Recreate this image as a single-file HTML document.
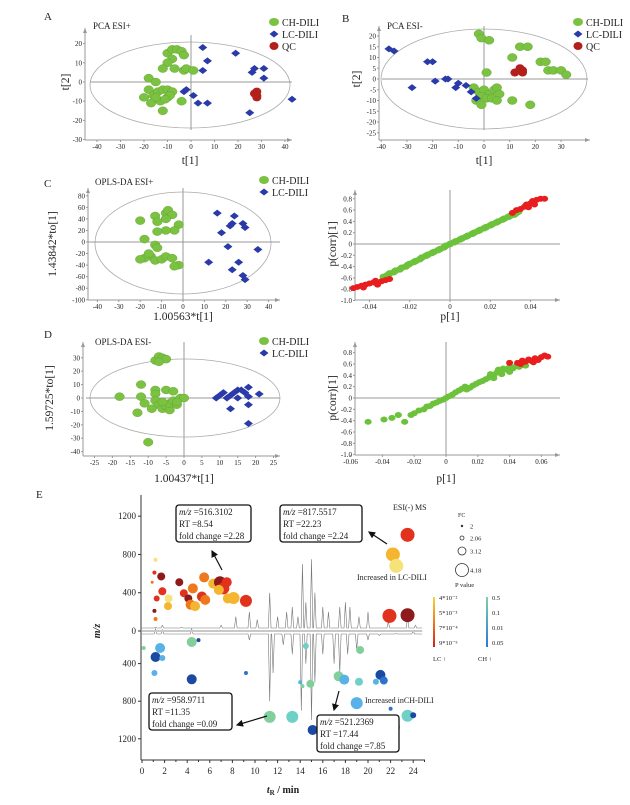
<!DOCTYPE html>
<html><head><meta charset="utf-8">
<style>
html,body{margin:0;padding:0;background:#fff;}
svg{display:block;font-family:"Liberation Serif",serif;}
</style></head>
<body>
<svg id="fig" width="630" height="805" viewBox="0 0 630 805" xmlns="http://www.w3.org/2000/svg"></svg>
<script>
// ---------- DATA ----------
const aGreen=[[-10,15],[-8,17],[-6,17],[-4,16],[-3,14],[-8,12],[-10,10],[-12,7],[-7,7],[-3,6],[-2,7],[1,6],[-18,2],[-15,0],[-18,-4],[-20,-8],[-16,-7],[-14,-5],[-12,-4],[-10,-4],[-8,-5],[-17,-11],[-13,-10],[-10,-8],[-9,-7],[-4,-10],[-12,-15],[-15,-8],[-11,-9]];
const aBlue=[[5,18],[7,11],[5,6],[19,15],[26,5],[27,7],[31,7],[31,2],[-3,-5],[-2,-4],[1,-7],[3,-11],[7,-11],[25,-16],[43,-9]];
const aQC=[[28,-5],[28,-7],[28,-8],[27,-6]];
const bGreen=[[-2,21],[-1,19],[2,18],[14,15],[17,15],[11,10],[22,8],[24,8],[25,4],[27,4],[30,4],[32,2],[1,3],[-4,-4],[-2,-6],[0,-5],[2,-7],[4,-5],[5,-4],[6,-7],[-1,-8],[1,-9],[3,-9],[5,-10],[-3,-10],[-1,-12],[11,-10],[18,-12]];
const bBlue=[[-37,14],[-35,13],[-22,8],[-20,8],[-19,-1],[-15,0],[-14,0],[-11,-4],[-10,-2],[-7,-3],[-5,-6],[-3,-9],[-28,-4]];
const bQC=[[12,3],[14,5],[15,4],[15,3]];
const cGreen=[[-20,37],[-13,45],[-12,35],[-8,50],[-7,55],[-5,47],[-8,40],[-2,30],[-4,20],[-8,20],[-12,18],[-18,5],[-13,-5],[-12,-10],[-15,-25],[-18,-28],[-13,-32],[-10,-30],[-8,-25],[-5,-28],[-2,-40],[-4,-42],[-16,-20],[-20,-30]];
const cBlue=[[16,50],[24,45],[23,32],[22,28],[28,32],[29,25],[18,16],[21,-8],[35,-13],[12,-35],[26,-35],[23,-48],[28,-58],[29,-65]];
const dGreen=[[-8,28],[-7,31],[-6,30],[-5,29],[-7,27],[-12,10],[-18,1],[-12,1],[-11,-4],[-8,6],[-8,3],[-5,6],[-3,5],[-8,-2],[-7,-5],[-6,-8],[-5,-6],[-4,-9],[-4,-4],[-3,-2],[-2,-5],[-1,0],[0,0],[-13,-11],[-9,-8],[-10,-33],[-6,-3],[-2,-3]];
const dBlue=[[9,0],[10,2],[11,4],[12,0],[13,2],[14,4],[15,6],[16,6],[17,4],[18,8],[21,3],[15,0],[18,1],[18,-5],[13,-8],[18,-19]];
const csGreen=[[-0.033,-0.58],[-0.031,-0.55],[-0.03,-0.52],[-0.028,-0.5],[-0.027,-0.47],[-0.025,-0.45],[-0.024,-0.42],[-0.022,-0.4],[-0.021,-0.37],[-0.02,-0.35],[-0.018,-0.32],[-0.017,-0.3],[-0.015,-0.27],[-0.014,-0.24],[-0.012,-0.21],[-0.011,-0.19],[-0.009,-0.16],[-0.008,-0.14],[-0.006,-0.11],[-0.005,-0.09],[-0.003,-0.06],[-0.002,-0.03],[0,0],[0.002,0.03],[0.003,0.05],[0.005,0.08],[0.006,0.1],[0.008,0.13],[0.009,0.15],[0.011,0.18],[0.012,0.2],[0.014,0.23],[0.015,0.25],[0.017,0.28],[0.018,0.3],[0.02,0.33],[0.021,0.35],[0.023,0.38],[0.024,0.4],[0.026,0.43],[0.027,0.45],[0.029,0.48],[0.03,0.5],[0.032,0.52],[0.033,0.55],[0.034,0.57]];
const csRed=[[-0.048,-0.78],[-0.046,-0.76],[-0.044,-0.74],[-0.042,-0.72],[-0.04,-0.7],[-0.038,-0.68],[-0.036,-0.72],[-0.034,-0.66],[-0.032,-0.64],[-0.03,-0.62],[-0.037,-0.65],[-0.043,-0.77],[0.031,0.55],[0.033,0.6],[0.035,0.62],[0.037,0.66],[0.038,0.7],[0.04,0.72],[0.041,0.76],[0.043,0.78],[0.045,0.8],[0.047,0.8],[0.039,0.65],[0.042,0.7]];
const dsGreen=[[-0.049,-0.42],[-0.039,-0.38],[-0.034,-0.35],[-0.03,-0.3],[-0.026,-0.42],[-0.022,-0.3],[-0.02,-0.27],[-0.017,-0.22],[-0.014,-0.2],[-0.012,-0.15],[-0.01,-0.14],[-0.008,-0.1],[-0.006,-0.08],[-0.004,-0.05],[-0.002,-0.03],[0,0],[0.002,0.03],[0.004,0.06],[0.006,0.1],[0.008,0.13],[0.01,0.16],[0.012,0.2],[0.013,0.15],[0.015,0.18],[0.017,0.22],[0.019,0.25],[0.021,0.28],[0.023,0.3],[0.025,0.33],[0.027,0.36],[0.028,0.42],[0.03,0.4],[0.032,0.45],[0.033,0.5],[0.035,0.47],[0.036,0.52],[0.038,0.5],[0.04,0.55],[0.042,0.52],[0.044,0.56],[0.046,0.55],[0.048,0.58],[0.05,0.57],[0.03,0.35],[0.035,0.42],[0.04,0.46]];
const dsRed=[[0.04,0.62],[0.045,0.62],[0.048,0.66],[0.05,0.64],[0.052,0.68],[0.054,0.65],[0.056,0.7],[0.058,0.67],[0.06,0.72],[0.062,0.75],[0.064,0.73],[0.055,0.63],[0.047,0.6]];
// E bubbles: [time, m/z, radius-class, colour index]
const eUp=[[23.5,1005,7,1],[22.2,800,7,3],[22.5,680,7,4],[21.9,158,7,1],[23.5,165,7,0],[1.2,745,2,4],[1.1,610,2,1],[0.9,510,1.5,2],[1.7,570,4,0],[1.8,415,4,1],[1.3,340,3,1],[2.35,340,4,4],[2.3,260,4,3],[1.1,210,2,0],[1.2,125,2,2],[3.3,510,4,0],[3.7,395,4,1],[4.5,445,5,2],[4.1,340,4,0],[4.3,275,5,2],[4.7,260,5,3],[5.3,360,5,1],[5.6,325,5,2],[5.5,560,5,2],[6.3,495,5,3],[6.9,510,6,0],[7.2,445,6,1],[7.5,510,5,1],[6.8,430,5,3],[7.6,340,5,3],[8.1,345,6,3],[9.2,315,6,1]];
const eDown=[[0.15,234,2,0],[1.2,330,5,4],[1.6,234,5,2],[1.8,340,3,2],[1.1,500,3,2],[4.4,170,5,0],[5.0,150,2,4],[4.4,567,5,4],[9.2,500,2,3],[11.3,967,6,0],[13.3,967,6,1],[14.5,213,3,1],[14.0,598,2,2],[14.2,640,2,0],[14.9,615,4,0],[15.1,1106,5,4],[17.4,535,5,0],[17.9,570,5,2],[19.0,820,6,2],[19.2,593,4,1],[19.3,255,4,0],[20.7,593,3,2],[21.1,520,5,4],[21.4,580,4,3],[22.0,880,2,3],[23.5,955,6,1],[24.0,950,3,4],[22.4,1075,5,0]];
const peaksUp=[[1.2,40],[1.8,60],[3.5,40],[7,60],[8.3,150],[9.5,200],[10.2,120],[11.3,400],[12,150],[12.8,200],[13.3,250],[13.8,150],[14.2,700],[14.5,300],[15,750],[15.3,400],[16,250],[16.5,200],[17.5,250],[18,300],[18.4,250],[19.2,150],[20,200],[21.8,100],[23.5,150],[24.2,60]];
const peaksDown=[[1.2,30],[1.8,40],[4.4,30],[9.5,150],[11.3,800],[11.6,500],[12.5,200],[13.3,300],[14.1,900],[14.5,400],[15,1000],[15.3,600],[16,300],[17,400],[17.5,500],[18.2,300],[19,250],[20,150],[21,100],[22.5,80],[24,50]];
const eXTicks=[0,2,4,6,8,10,12,14,16,18,20,22,24];
const eYTicksUp=[0,400,800,1200];
const eYTicksDown=[400,800,1200];
const upColors=['#8e1b1b','#e0321c','#f0781c','#f5b52e','#f6e27a'];
const downColors=['#82cf9c','#6fd0c8','#58b2e8','#2e72cc','#1c4aa2'];

// ---------- HELPERS ----------
const NS='http://www.w3.org/2000/svg';
const svg=document.getElementById('fig');
function mk(tag,attrs,parent,name){
  const e=document.createElementNS(NS,tag);
  for(const k in attrs)e.setAttribute(k,attrs[k]);
  
  
  (parent||svg).appendChild(e);return e;
}
function txt(x,y,s,size,opts,parent,name){
  const o=Object.assign({x:x,y:y,'font-size':size,fill:'#222'},opts||{});
  const t=mk('text',o,parent,name);t.textContent=s;return t;
}
const GREEN='#7cc242',BLUE='#2a3aa8',RED='#b3201c';
function circ(g,x,y,c,name){mk('ellipse',{cx:x,cy:y,rx:4.8,ry:4,fill:c,stroke:'#5aa02a','stroke-width':0.4},g,name);}
function dia(g,x,y,name){mk('path',{d:`M${x-4.5},${y}L${x},${y-3.5}L${x+4.5},${y}L${x},${y+3.5}Z`,fill:BLUE},g,name);}
function qc(g,x,y,name){mk('ellipse',{cx:x,cy:y,rx:4.5,ry:4,fill:RED},g,name);}

function scorePlot(cfg){
  const g=mk('g',{},svg,cfg.name);
  const X=v=>cfg.x0+cfg.sx*v, Y=v=>cfg.y0-cfg.sy*v;
  mk('line',{x1:cfg.ax,y1:cfg.ayTop,x2:cfg.ax,y2:cfg.ab,stroke:'#999','stroke-width':1},g,'y-axis');
  mk('path',{d:`M${cfg.ax-2},${cfg.ayTop+5}L${cfg.ax},${cfg.ayTop}L${cfg.ax+2},${cfg.ayTop+5}`,fill:'#999'},g,'y-axis-arrow');
  mk('line',{x1:cfg.ax,y1:cfg.ab,x2:cfg.axRight,y2:cfg.ab,stroke:'#999','stroke-width':1},g,'x-axis');
  mk('path',{d:`M${cfg.axRight-5},${cfg.ab-2}L${cfg.axRight},${cfg.ab}L${cfg.axRight-5},${cfg.ab+2}`,fill:'#999'},g,'x-axis-arrow');
  cfg.xt.forEach(v=>{mk('line',{x1:X(v),y1:cfg.ab,x2:X(v),y2:cfg.ab+2,stroke:'#999'},g,'x-tick');
    txt(X(v),cfg.ab+9,cfg.fmtX?cfg.fmtX(v):String(v),7,{'text-anchor':'middle'},g,'x-tick-label');});
  cfg.yt.forEach(v=>{mk('line',{x1:cfg.ax-2,y1:Y(v),x2:cfg.ax,y2:Y(v),stroke:'#999'},g,'y-tick');
    txt(cfg.ax-3,Y(v)+2.5,cfg.fmtY?cfg.fmtY(v):String(v),7,{'text-anchor':'end'},g,'y-tick-label');});
  if(cfg.ell) mk('ellipse',{cx:cfg.ell[0],cy:cfg.ell[1],rx:cfg.ell[2],ry:cfg.ell[3],fill:'none',stroke:'#aaa','stroke-width':0.8},g,'hotelling-ellipse');
  mk('line',{x1:X(0),y1:cfg.vl[0],x2:X(0),y2:cfg.vl[1],stroke:'#999','stroke-width':1},g,'zero-vline');
  mk('line',{x1:cfg.hl[0],y1:Y(0),x2:cfg.hl[1],y2:Y(0),stroke:'#999','stroke-width':1},g,'zero-hline');
  (cfg.series||[]).forEach(s=>s.data.forEach(p=>s.draw(g,X(p[0]),Y(p[1]),s.name)));
  txt(cfg.ylab[0],cfg.ylab[1],cfg.ylab[2],11.5,{'text-anchor':'middle',transform:`rotate(-90 ${cfg.ylab[0]} ${cfg.ylab[1]})`},g,'y-axis-title');
  txt(cfg.xlab[0],cfg.xlab[1],cfg.xlab[2],11.5,{'text-anchor':'middle'},g,'x-axis-title');
  return g;
}
function legend(x,y,items){
  const g=mk('g',{},svg,'legend');
  items.forEach((it,i)=>{const yy=y+i*12;
    if(it[1]==='c')mk('ellipse',{cx:x,cy:yy,rx:5,ry:4,fill:GREEN},g,'legend-marker');
    else if(it[1]==='d')dia(g,x,yy,'legend-marker');
    else qc(g,x,yy,'legend-marker');
    txt(x+8,yy+4,it[0],10,{},g,'legend-entry');});
}

// ---------- PANEL A ----------
scorePlot({name:'panel-a',x0:191,sx:2.35,y0:82,sy:1.92,ax:85,ayTop:28,ab:140,axRight:292,
 xt:[-40,-30,-20,-10,0,10,20,30,40],yt:[20,10,0,-10,-20,-30],ell:[190,85,100,43],vl:[35,130],hl:[90,292],
 series:[{data:aGreen,draw:(g,x,y,n)=>circ(g,x,y,GREEN,n),name:'ch-dili-point'},{data:aBlue,draw:dia,name:'lc-dili-point'},{data:aQC,draw:qc,name:'qc-point'}],
 ylab:[69,82,'t[2]'],xlab:[190,164,'t[1]']});
txt(44,20,'A',11,{},svg,'panel-label-a');txt(93,29,'PCA ESI+',9,{},svg,'title-a');
legend(274,22,[['CH-DILI','c'],['LC-DILI','d'],['QC','q']]);

// ---------- PANEL B ----------
scorePlot({name:'panel-b',x0:484,sx:2.57,y0:79,sy:2.15,ax:379,ayTop:26,ab:140,axRight:590,
 xt:[-40,-30,-20,-10,0,10,20,30],yt:[20,15,10,5,0,-5,-10,-15,-20,-25],ell:[484,79,103,50],vl:[26,130],hl:[382,588],
 series:[{data:bGreen,draw:(g,x,y,n)=>circ(g,x,y,GREEN,n),name:'ch-dili-point'},{data:bBlue,draw:dia,name:'lc-dili-point'},{data:bQC,draw:qc,name:'qc-point'}],
 ylab:[360,79,'t[2]'],xlab:[484,164,'t[1]']});
txt(342,22,'B',11,{},svg,'panel-label-b');txt(387,29,'PCA ESI-',9,{},svg,'title-b');
legend(578,22,[['CH-DILI','c'],['LC-DILI','d'],['QC','q']]);

// ---------- PANEL C ----------
scorePlot({name:'panel-c-scores',x0:183,sx:2.14,y0:242,sy:0.578,ax:88,ayTop:188,ab:300,axRight:280,
 xt:[-40,-30,-20,-10,0,10,20,30,40],yt:[80,60,40,20,0,-20,-40,-60,-80,-100],ell:[183,243,88,51],vl:[188,300],hl:[88,280],
 series:[{data:cGreen,draw:(g,x,y,n)=>circ(g,x,y,GREEN,n),name:'ch-dili-point'},{data:cBlue,draw:dia,name:'lc-dili-point'}],
 ylab:[56,244,'1.43842*to[1]'],xlab:[183,320,'1.00563*t[1]']});
txt(44,187,'C',11,{},svg,'panel-label-c');txt(95,185,'OPLS-DA ESI+',9,{},svg,'title-c');
legend(264,180,[['CH-DILI','c'],['LC-DILI','d']]);
const f2=v=>v===0?'0':v.toFixed(2);
const f1=v=>v===0?'0':v.toFixed(1);
scorePlot({name:'panel-c-splot',x0:450,sx:2013,y0:244,sy:56.5,ax:355,ayTop:190,ab:300,axRight:560,
 xt:[-0.04,-0.02,0,0.02,0.04],yt:[0.8,0.6,0.4,0.2,0,-0.2,-0.4,-0.6,-0.8,-1.0],fmtX:f2,fmtY:f1,vl:[190,300],hl:[355,560],
 series:[{data:csGreen,draw:(g,x,y,n)=>mk('ellipse',{cx:x,cy:y,rx:4,ry:3.2,fill:'#6cc23a'},g,n),name:'splot-point'},
         {data:csRed,draw:(g,x,y,n)=>mk('ellipse',{cx:x,cy:y,rx:3.5,ry:3,fill:'#e81e1e'},g,n),name:'splot-significant-point'}],
 ylab:[336,244,'p(corr)[1]'],xlab:[450,320,'p[1]']});

// ---------- PANEL D ----------
scorePlot({name:'panel-d-scores',x0:184,sx:3.58,y0:398,sy:1.34,ax:83,ayTop:342,ab:456,axRight:280,
 xt:[-25,-20,-15,-10,-5,0,5,10,15,20,25],yt:[30,20,10,0,-10,-20,-30,-40],ell:[185,398,95,39],vl:[342,456],hl:[86,280],
 series:[{data:dGreen,draw:(g,x,y,n)=>circ(g,x,y,GREEN,n),name:'ch-dili-point'},{data:dBlue,draw:dia,name:'lc-dili-point'}],
 ylab:[53,398,'1.59725*to[1]'],xlab:[184,482,'1.00437*t[1]']});
txt(44,338,'D',11,{},svg,'panel-label-d');txt(95,345,'OPLS-DA ESI-',9,{},svg,'title-d');
legend(264,341,[['CH-DILI','c'],['LC-DILI','d']]);
scorePlot({name:'panel-d-splot',x0:446,sx:1590,y0:398,sy:56.7,ax:355,ayTop:342,ab:455,axRight:560,
 xt:[-0.06,-0.04,-0.02,0,0.02,0.04,0.06],yt:[0.8,0.6,0.4,0.2,0,-0.2,-0.4,-0.6,-0.8,-1.0],fmtX:f2,fmtY:f1,vl:[342,455],hl:[355,560],
 series:[{data:dsGreen,draw:(g,x,y,n)=>mk('ellipse',{cx:x,cy:y,rx:3.6,ry:3,fill:'#6cc23a'},g,n),name:'splot-point'},
         {data:dsRed,draw:(g,x,y,n)=>mk('ellipse',{cx:x,cy:y,rx:3.5,ry:3,fill:'#e81e1e'},g,n),name:'splot-significant-point'}],
 ylab:[336,398,'p(corr)[1]'],xlab:[446,482,'p[1]']});

// ---------- PANEL E ----------
const gE=mk('g',{},svg,'panel-e');
const EX=t=>142+11.3*t, EUp=v=>631-0.0957*v, EDn=v=>626+0.094*v;
txt(36,498,'E',11,{},gE,'panel-label-e');
let du=`M${EX(0)},628`;
peaksUp.forEach(p=>{du+=`L${EX(p[0]-0.12)},628L${EX(p[0])},${EUp(p[1])}L${EX(p[0]+0.12)},628`;});
du+=`L${EX(24.8)},628`;
mk('path',{d:du,fill:'none',stroke:'#777','stroke-width':0.6},gE,'chromatogram-positive');
let dd=`M${EX(0)},634`;
peaksDown.forEach(p=>{dd+=`L${EX(p[0]-0.12)},634L${EX(p[0])},${EDn(p[1])}L${EX(p[0]+0.12)},634`;});
dd+=`L${EX(24.8)},634`;
mk('path',{d:dd,fill:'none',stroke:'#777','stroke-width':0.6},gE,'chromatogram-negative');
mk('rect',{x:EX(0),y:630,width:EX(24.8)-EX(0),height:2,fill:'#c8c8c8'},gE,'baseline-band');
eUp.forEach(b=>mk('circle',{cx:EX(b[0]),cy:EUp(b[1]),r:b[2],fill:upColors[b[3]]},gE,'lc-bubble'));
eDown.forEach(b=>mk('circle',{cx:EX(b[0]),cy:EDn(b[1]),r:b[2],fill:downColors[b[3]]},gE,'ch-bubble'));
mk('line',{x1:141,y1:495,x2:141,y2:760,stroke:'#333','stroke-width':1},gE,'e-y-axis');
mk('line',{x1:141,y1:760,x2:425,y2:760,stroke:'#333','stroke-width':1},gE,'e-x-axis');
eXTicks.forEach(t=>{mk('line',{x1:EX(t),y1:760,x2:EX(t),y2:763,stroke:'#333'},gE,'x-tick');
  txt(EX(t),774,String(t),9,{'text-anchor':'middle'},gE,'x-tick-label');});
for(let t=1;t<=25;t+=2) mk('line',{x1:EX(t),y1:760,x2:EX(t),y2:762,stroke:'#333'},gE,'x-minor-tick');
eYTicksUp.forEach(v=>{mk('line',{x1:138,y1:EUp(v),x2:141,y2:EUp(v),stroke:'#333'},gE,'y-tick');
  txt(136,EUp(v)+3,String(v),9,{'text-anchor':'end'},gE,'y-tick-label');});
eYTicksDown.forEach(v=>{mk('line',{x1:138,y1:EDn(v),x2:141,y2:EDn(v),stroke:'#333'},gE,'y-tick');
  txt(136,EDn(v)+3,String(v),9,{'text-anchor':'end'},gE,'y-tick-label');});
txt(100,631,'m/z',10,{'text-anchor':'middle','font-style':'italic','font-weight':'bold',transform:'rotate(-90 100 631)'},gE,'y-axis-title');
const xt=txt(283,793,'',10,{'text-anchor':'middle','font-weight':'bold'},gE,'x-axis-title');
xt.innerHTML='<tspan font-style="italic">t</tspan><tspan font-size="7" dy="2">R</tspan><tspan dy="-2"> / min</tspan>';
function box(x,y,w,h,lines,name){
  const g=mk('g',{},gE,name);
  mk('rect',{x:x,y:y,width:w,height:h,rx:3,fill:'#fff',stroke:'#111','stroke-width':1.3},g,'annotation-box');
  lines.forEach((l,i)=>{const t=txt(x+3,y+10+i*12,'',9,{},g,'annotation-line');t.innerHTML=l;});
}
box(176,505,75,37,['<tspan font-style="italic">m/z</tspan> =516.3102','RT =8.54','fold change =2.28'],'annotation-516');
box(280,505,82,37,['<tspan font-style="italic">m/z</tspan> =817.5517','RT =22.23','fold change =2.24'],'annotation-817');
box(149,693,83,37,['<tspan font-style="italic">m/z</tspan> =958.9711','RT =11.35','fold change =0.09'],'annotation-958');
box(317,715,82,37,['<tspan font-style="italic">m/z</tspan> =521.2369','RT =17.44','fold change =7.85'],'annotation-521');
mk('defs',{},gE,'defs').innerHTML='<marker id="ah" markerWidth="6" markerHeight="6" refX="5" refY="3" orient="auto"><path d="M0,0L6,3L0,6Z" fill="#111"/></marker>';
[[222,570,212,551],[387,544,369,532],[267,716,237,725],[339,691,334,710]].forEach(a=>
  mk('line',{x1:a[0],y1:a[1],x2:a[2],y2:a[3],stroke:'#111','stroke-width':1.2,'marker-end':'url(#ah)'},gE,'annotation-arrow'));
txt(393,510,'ESI(-) MS',8,{},gE,'mode-label');
txt(357,580,'Increased in LC-DILI',8,{},gE,'lc-increase-label');
txt(365,703,'Increased inCH-DILI',8,{},gE,'ch-increase-label');
txt(458,517,'FC',6,{},gE,'fc-legend-title');
[[526,0.8,'2'],[538,2,'2.06'],[551,4,'3.12'],[570,6.5,'4.18']].forEach(r=>{
  mk('circle',{cx:462,cy:r[0],r:r[1],fill:r[1]<1?'#333':'none',stroke:'#333','stroke-width':0.8},gE,'fc-legend-circle');
  txt(470,r[0]+2.5,r[2],6.5,{},gE,'fc-legend-label');});
txt(455,587,'P value',6.5,{},gE,'pvalue-legend-title');
mk('defs',{},gE,'defs2').innerHTML='<linearGradient id="gl" x1="0" y1="0" x2="0" y2="1"><stop offset="0" stop-color="#f6d63a"/><stop offset="0.5" stop-color="#f07a1c"/><stop offset="1" stop-color="#d0201c"/></linearGradient><linearGradient id="gc" x1="0" y1="0" x2="0" y2="1"><stop offset="0" stop-color="#7fd0a8"/><stop offset="1" stop-color="#2a78d8"/></linearGradient>';
mk('rect',{x:433,y:597,width:2,height:50,fill:'url(#gl)'},gE,'lc-colorbar');
mk('rect',{x:486,y:597,width:2,height:50,fill:'url(#gc)'},gE,'ch-colorbar');
['4*10⁻²','5*10⁻³','7*10⁻⁴','9*10⁻⁵'].forEach((s,i)=>txt(439,600+i*15,s,6.5,{},gE,'lc-colorbar-label'));
['0.5','0.1','0.01','0.05'].forEach((s,i)=>txt(492,600+i*15,s,6.5,{},gE,'ch-colorbar-label'));
txt(433,661,'LC ↑',6.5,{},gE,'lc-legend-label');
txt(478,661,'CH ↑',6.5,{},gE,'ch-legend-label');
</script>
</body></html>
